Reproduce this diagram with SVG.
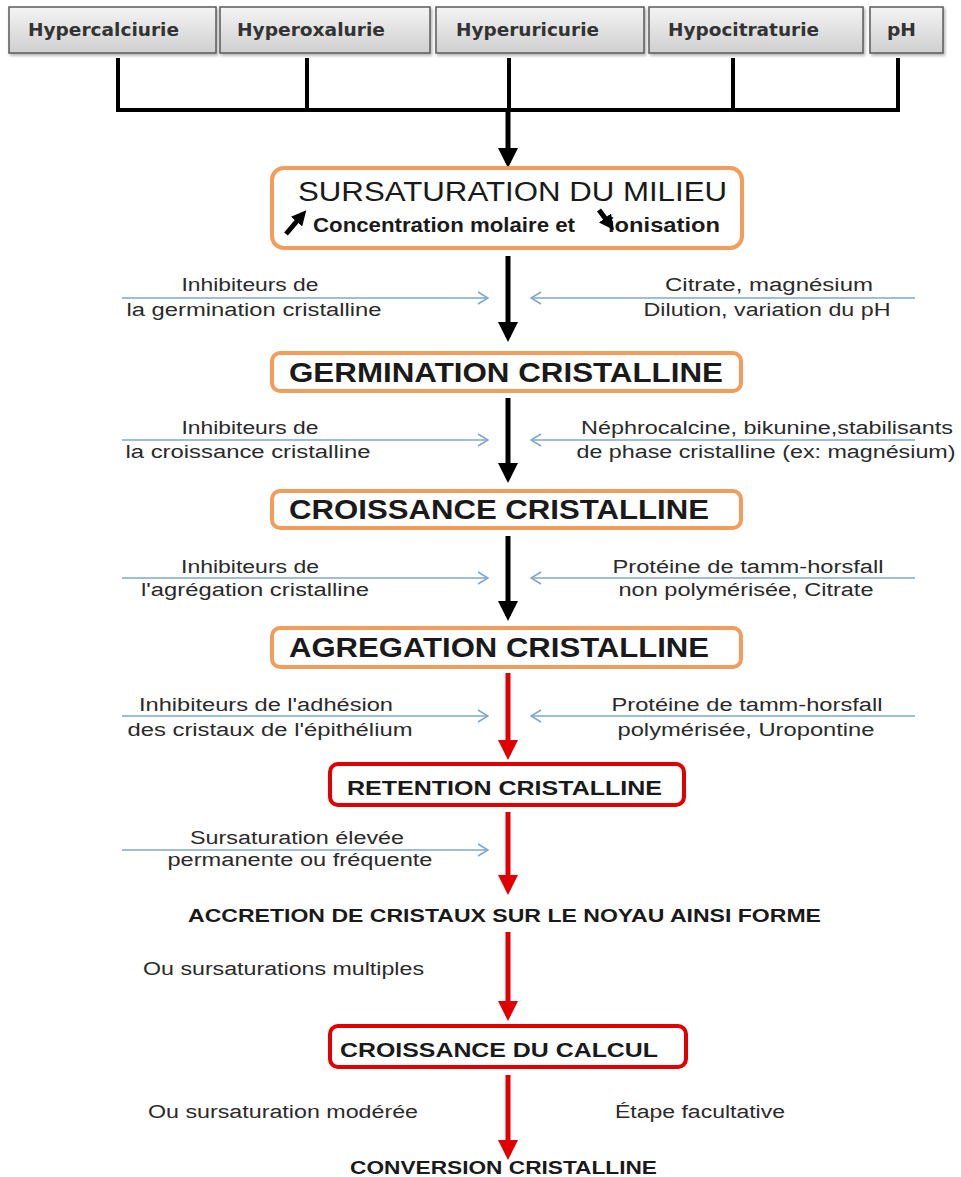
<svg xmlns="http://www.w3.org/2000/svg" width="961" height="1177" viewBox="0 0 961 1177">
<defs>
<linearGradient id="gray" x1="0" y1="0" x2="0" y2="1">
<stop offset="0" stop-color="#f4f4f4"/>
<stop offset="1" stop-color="#cfcfcf"/>
</linearGradient>
<filter id="sh" x="-5%" y="-10%" width="110%" height="130%">
<feDropShadow dx="1.5" dy="2" stdDeviation="1.5" flood-color="#000" flood-opacity="0.3"/>
</filter>
<marker id="hb" markerWidth="4" markerHeight="4" refX="3" refY="2" orient="auto" markerUnits="strokeWidth">
<path d="M0,0 L4,2 L0,4 Z" fill="#000"/>
</marker>
<marker id="hr" markerWidth="4" markerHeight="4" refX="3" refY="2" orient="auto" markerUnits="strokeWidth">
<path d="M0,0 L4,2 L0,4 Z" fill="#e00000"/>
</marker>
<marker id="hs" markerWidth="3" markerHeight="3" refX="2" refY="1.5" orient="auto" markerUnits="strokeWidth">
<path d="M0,0 L3,1.5 L0,3 Z" fill="#000"/>
</marker>
<marker id="chev" markerWidth="12" markerHeight="14" refX="11" refY="7" orient="auto" markerUnits="userSpaceOnUse">
<path d="M1,1 L11,7 L1,13" fill="none" stroke="#7fa6cc" stroke-width="1.6"/>
</marker>
</defs>
<style>
.top{fill:url(#gray);stroke:#5a5a5a;stroke-width:1.5;filter:url(#sh)}
.toptxt{font-family:"DejaVu Sans",sans-serif;font-weight:bold;font-size:17px;fill:#333}
.orange{fill:#fff;stroke:#f29d5c;stroke-width:4}
.red{fill:#fff;stroke:#e00000;stroke-width:4}
.big{font-family:"Liberation Sans",Arial,sans-serif;font-size:27px;fill:#1a1a1a}
.bigb{font-family:"Liberation Sans",Arial,sans-serif;font-weight:bold;font-size:21px;fill:#1a1a1a}
.lab{font-family:"Liberation Sans",Arial,sans-serif;font-size:18px;fill:#2a2a2a}
.bl{font-family:"Liberation Sans",Arial,sans-serif;font-weight:bold;font-size:18px;fill:#1a1a1a}
.blue{stroke:#7fa6cc;stroke-width:1.6;fill:none}
.blk{stroke:#000;stroke-width:5;fill:none}
.rd{stroke:#e00000;stroke-width:5;fill:none}
.bar{stroke:#000;stroke-width:4;fill:none}
</style>

<g id="n-hypercalciurie"><rect class="top" x="9" y="7" width="207" height="46"/><text class="toptxt" x="28" y="36" textLength="151" lengthAdjust="spacingAndGlyphs">Hypercalciurie</text></g>
<g id="n-hyperoxalurie"><rect class="top" x="220" y="7" width="210" height="46"/><text class="toptxt" x="237" y="36" textLength="148" lengthAdjust="spacingAndGlyphs">Hyperoxalurie</text></g>
<g id="n-hyperuricurie"><rect class="top" x="436" y="7" width="208" height="46"/><text class="toptxt" x="456" y="36" textLength="143" lengthAdjust="spacingAndGlyphs">Hyperuricurie</text></g>
<g id="n-hypocitraturie"><rect class="top" x="649" y="7" width="214" height="46"/><text class="toptxt" x="668" y="36" textLength="151" lengthAdjust="spacingAndGlyphs">Hypocitraturie</text></g>
<g id="n-ph"><rect class="top" x="870" y="7" width="73" height="46"/><text class="toptxt" x="887" y="36" textLength="29" lengthAdjust="spacingAndGlyphs">pH</text></g>

<g id="connectors">
<path class="bar" d="M118,58 V110 M307,58 V110 M509,58 V110 M733,58 V110 M898,58 V110 M116,110 H900"/>
<line class="blk" x1="508" y1="110" x2="508" y2="163" marker-end="url(#hb)"/>
<line class="blk" x1="508" y1="256" x2="508" y2="337" marker-end="url(#hb)"/>
<line class="blk" x1="508" y1="398" x2="508" y2="478" marker-end="url(#hb)"/>
<line class="blk" x1="508" y1="536" x2="508" y2="616" marker-end="url(#hb)"/>
<line class="rd" x1="508" y1="673" x2="508" y2="755" marker-end="url(#hr)"/>
<line class="rd" x1="508" y1="812" x2="508" y2="890" marker-end="url(#hr)"/>
<line class="rd" x1="508" y1="932" x2="508" y2="1016" marker-end="url(#hr)"/>
<line class="rd" x1="508" y1="1075" x2="508" y2="1155" marker-end="url(#hr)"/>
<line class="blue" x1="122" y1="298" x2="488" y2="298" marker-end="url(#chev)"/>
<line class="blue" x1="915" y1="298" x2="531" y2="298" marker-end="url(#chev)"/>
<line class="blue" x1="122" y1="440" x2="488" y2="440" marker-end="url(#chev)"/>
<line class="blue" x1="915" y1="440" x2="531" y2="440" marker-end="url(#chev)"/>
<line class="blue" x1="122" y1="578" x2="488" y2="578" marker-end="url(#chev)"/>
<line class="blue" x1="915" y1="578" x2="531" y2="578" marker-end="url(#chev)"/>
<line class="blue" x1="122" y1="716" x2="488" y2="716" marker-end="url(#chev)"/>
<line class="blue" x1="915" y1="716" x2="531" y2="716" marker-end="url(#chev)"/>
<line class="blue" x1="122" y1="850" x2="488" y2="850" marker-end="url(#chev)"/>
</g>

<g id="n-sursaturation">
<rect class="orange" x="272" y="168" width="470" height="80" rx="12"/>
<text class="big" x="298" y="201" textLength="429" lengthAdjust="spacingAndGlyphs">SURSATURATION DU MILIEU</text>
<text class="bigb" x="313" y="232" font-size="19" textLength="262" lengthAdjust="spacingAndGlyphs">Concentration molaire et</text>
<text class="bigb" x="608" y="232" font-size="19" textLength="112" lengthAdjust="spacingAndGlyphs">ionisation</text>
<line x1="286" y1="234" x2="303" y2="214" stroke="#000" stroke-width="5" marker-end="url(#hs)"/>
<line x1="599" y1="210" x2="611" y2="226" stroke="#000" stroke-width="5" marker-end="url(#hs)"/>
</g>

<g id="l-germ-left"><text class="lab" x="250" y="291" text-anchor="middle" textLength="137" lengthAdjust="spacingAndGlyphs">Inhibiteurs de</text><text class="lab" x="254" y="316" text-anchor="middle" textLength="255" lengthAdjust="spacingAndGlyphs">la germination cristalline</text></g>
<g id="l-germ-right"><text class="lab" x="769" y="291" text-anchor="middle" textLength="208" lengthAdjust="spacingAndGlyphs">Citrate, magnésium</text><text class="lab" x="767" y="316" text-anchor="middle" textLength="247" lengthAdjust="spacingAndGlyphs">Dilution, variation du pH</text></g>

<g id="n-germination">
<rect class="orange" x="272" y="353" width="469" height="38" rx="8"/>
<text class="big" x="289" y="382" font-weight="bold" font-size="26" textLength="434" lengthAdjust="spacingAndGlyphs">GERMINATION CRISTALLINE</text>
</g>

<g id="l-crois-left"><text class="lab" x="250" y="434" text-anchor="middle" textLength="137" lengthAdjust="spacingAndGlyphs">Inhibiteurs de</text><text class="lab" x="248" y="458" text-anchor="middle" textLength="245" lengthAdjust="spacingAndGlyphs">la croissance cristalline</text></g>
<g id="l-crois-right"><text class="lab" x="767" y="434" text-anchor="middle" textLength="372" lengthAdjust="spacingAndGlyphs">Néphrocalcine, bikunine,stabilisants</text><text class="lab" x="766" y="458" text-anchor="middle" textLength="379" lengthAdjust="spacingAndGlyphs">de phase cristalline (ex: magnésium)</text></g>

<g id="n-croissance">
<rect class="orange" x="272" y="491" width="469" height="37" rx="8"/>
<text class="big" x="289" y="519" font-weight="bold" font-size="26" textLength="420" lengthAdjust="spacingAndGlyphs">CROISSANCE CRISTALLINE</text>
</g>

<g id="l-agr-left"><text class="lab" x="250" y="573" text-anchor="middle" textLength="138" lengthAdjust="spacingAndGlyphs">Inhibiteurs de</text><text class="lab" x="255" y="596" text-anchor="middle" textLength="228" lengthAdjust="spacingAndGlyphs">l'agrégation cristalline</text></g>
<g id="l-agr-right"><text class="lab" x="748" y="573" text-anchor="middle" textLength="271" lengthAdjust="spacingAndGlyphs">Protéine de tamm-horsfall</text><text class="lab" x="746" y="596" text-anchor="middle" textLength="255" lengthAdjust="spacingAndGlyphs">non polymérisée, Citrate</text></g>

<g id="n-agregation">
<rect class="orange" x="272" y="628" width="469" height="39" rx="8"/>
<text class="big" x="289" y="657" font-weight="bold" font-size="26" textLength="420" lengthAdjust="spacingAndGlyphs">AGREGATION CRISTALLINE</text>
</g>

<g id="l-adh-left"><text class="lab" x="266" y="711" text-anchor="middle" textLength="254" lengthAdjust="spacingAndGlyphs">Inhibiteurs de l'adhésion</text><text class="lab" x="270" y="736" text-anchor="middle" textLength="285" lengthAdjust="spacingAndGlyphs">des cristaux de l'épithélium</text></g>
<g id="l-adh-right"><text class="lab" x="747" y="711" text-anchor="middle" textLength="271" lengthAdjust="spacingAndGlyphs">Protéine de tamm-horsfall</text><text class="lab" x="746" y="736" text-anchor="middle" textLength="257" lengthAdjust="spacingAndGlyphs">polymérisée, Uropontine</text></g>

<g id="n-retention">
<rect class="red" x="330" y="764" width="354" height="41" rx="8"/>
<text class="bigb" x="347" y="795" textLength="315" lengthAdjust="spacingAndGlyphs">RETENTION  CRISTALLINE</text>
</g>

<g id="l-surs-elevee"><text class="lab" x="297" y="844" text-anchor="middle" textLength="214" lengthAdjust="spacingAndGlyphs">Sursaturation élevée</text><text class="lab" x="300" y="866" text-anchor="middle" textLength="265" lengthAdjust="spacingAndGlyphs">permanente ou fréquente</text></g>

<g id="n-accretion"><text class="bl" x="188" y="922" textLength="633" lengthAdjust="spacingAndGlyphs">ACCRETION DE CRISTAUX SUR LE NOYAU AINSI FORME</text></g>

<g id="l-multiples"><text class="lab" x="143" y="975" textLength="281" lengthAdjust="spacingAndGlyphs">Ou sursaturations multiples</text></g>

<g id="n-calcul">
<rect class="red" x="330" y="1026" width="356" height="41" rx="8"/>
<text class="bigb" x="340" y="1057" textLength="318" lengthAdjust="spacingAndGlyphs">CROISSANCE  DU  CALCUL</text>
</g>

<g id="l-moderee"><text class="lab" x="148" y="1118" textLength="270" lengthAdjust="spacingAndGlyphs">Ou sursaturation modérée</text></g>
<g id="l-facultative"><text class="lab" x="615" y="1118" textLength="170" lengthAdjust="spacingAndGlyphs">Étape facultative</text></g>

<g id="n-conversion"><text class="bl" x="350" y="1174" textLength="307" lengthAdjust="spacingAndGlyphs">CONVERSION CRISTALLINE</text></g>
</svg>
